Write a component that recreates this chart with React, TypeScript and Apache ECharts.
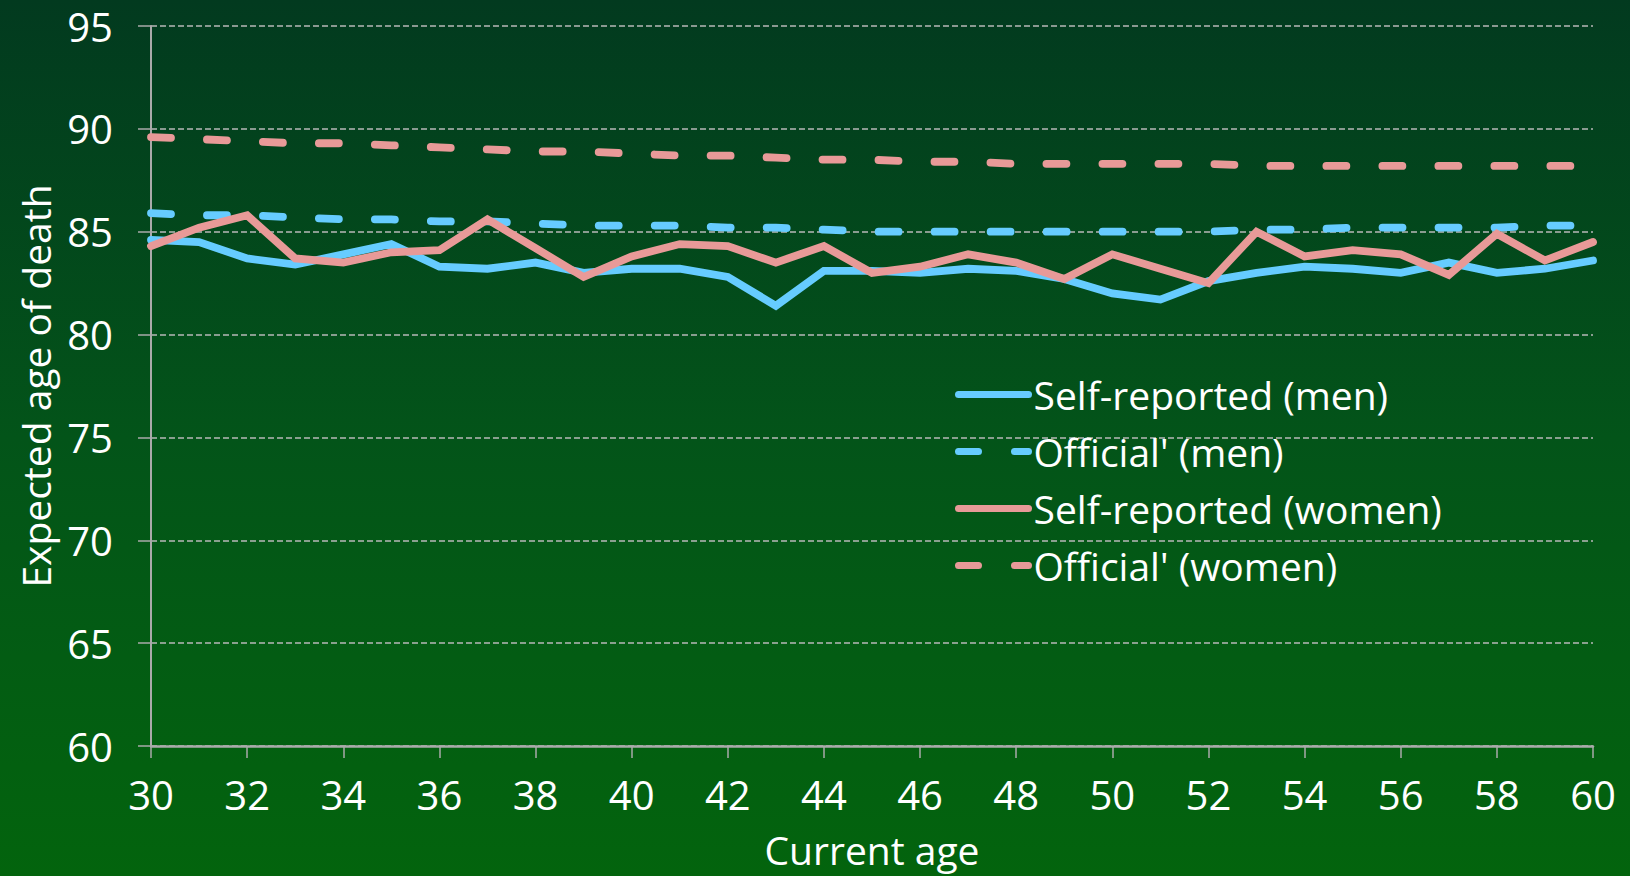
import React, { useEffect, useRef } from "react";
import * as echarts from "echarts";

const ages = [30, 31, 32, 33, 34, 35, 36, 37, 38, 39, 40, 41, 42, 43, 44, 45, 46, 47, 48, 49, 50, 51, 52, 53, 54, 55, 56, 57, 58, 59, 60];
const selfMen = [84.6, 84.5, 83.7, 83.4, 83.9, 84.4, 83.3, 83.2, 83.5, 83.0, 83.2, 83.2, 82.8, 81.4, 83.1, 83.1, 83.0, 83.2, 83.1, 82.7, 82.0, 81.7, 82.6, 83.0, 83.3, 83.2, 83.0, 83.5, 83.0, 83.2, 83.6];
const officialMen = [85.9, 85.8, 85.8, 85.7, 85.6, 85.6, 85.5, 85.5, 85.4, 85.3, 85.3, 85.3, 85.2, 85.2, 85.1, 85.0, 85.0, 85.0, 85.0, 85.0, 85.0, 85.0, 85.0, 85.1, 85.1, 85.2, 85.2, 85.2, 85.2, 85.3, 85.3];
const selfWomen = [84.3, 85.2, 85.8, 83.7, 83.5, 84.0, 84.1, 85.6, 84.2, 82.8, 83.8, 84.4, 84.3, 83.5, 84.3, 83.0, 83.3, 83.9, 83.5, 82.7, 83.9, 83.2, 82.5, 85.0, 83.8, 84.1, 83.9, 82.9, 84.9, 83.6, 84.5];
const officialWomen = [89.6, 89.5, 89.4, 89.3, 89.3, 89.2, 89.1, 89.0, 88.9, 88.9, 88.8, 88.7, 88.7, 88.6, 88.5, 88.5, 88.4, 88.4, 88.3, 88.3, 88.3, 88.3, 88.3, 88.2, 88.2, 88.2, 88.2, 88.2, 88.2, 88.2, 88.2];

const seriesNames = ["Self-reported (men)", "Official' (men)", "Self-reported (women)", "Official' (women)"];
const xAxisTitle = "Current age";
const yAxisTitle = "Expected age of death";

const BLUE = "#66ccff";
const PINK = "#e89a98";
const FONT = "'Open Sans', sans-serif";

export default function App() {
  const ref = useRef<HTMLDivElement>(null);
  useEffect(() => {
    if (!ref.current) return;
    const chart = echarts.init(ref.current, undefined, { renderer: "svg" });
    const pair = (arr: number[]) => ages.map((a, i) => [a, arr[i]]);
    const mk = (name: string, data: number[], color: string, dashed: boolean) => ({
      name,
      type: "line",
      data: pair(data),
      showSymbol: false,
      symbol: "none",
      lineStyle: {
        color,
        width: 7.8,
        type: dashed ? [20, 36] : "solid",
        cap: "round",
        join: "miter",
      },
      itemStyle: { color },
      z: dashed ? 2 : 3,
    });
    chart.setOption({
      animation: false,
      backgroundColor: {
        type: "linear",
        x: 0, y: 0, x2: 0, y2: 1,
        colorStops: [
          { offset: 0, color: "#023a1f" },
          { offset: 0.5, color: "#035419" },
          { offset: 1, color: "#03640d" },
        ],
      },
      textStyle: { fontFamily: FONT },
      grid: { left: 151, right: 37, top: 26, bottom: 130, containLabel: false },
      legend: {
        orient: "vertical",
        left: 950,
        top: 370,
        itemWidth: 70,
        itemHeight: 14,
        itemGap: 18,
        itemStyle: { opacity: 0, borderWidth: 0 },
        lineStyle: { width: 7, cap: "round", inactiveWidth: 7 },
        textStyle: { color: "#ffffff", fontSize: 39, fontFamily: FONT, padding: [0, 0, 0, 0] },
        data: seriesNames,
      },
      xAxis: {
        type: "value",
        min: 30,
        max: 60,
        interval: 2,
        name: xAxisTitle,
        nameLocation: "middle",
        nameGap: 84,
        nameTextStyle: { color: "#ffffff", fontSize: 39, fontFamily: FONT },
        axisLine: { show: true, lineStyle: { color: "#aaaaaa", width: 2.5 } },
        axisTick: { show: true, length: 12, lineStyle: { color: "#aaaaaa", width: 1.5 } },
        axisLabel: { color: "#ffffff", fontSize: 40, margin: 28, fontFamily: FONT },
        splitLine: { show: false },
      },
      yAxis: {
        type: "value",
        min: 60,
        max: 95,
        interval: 5,
        name: yAxisTitle,
        nameLocation: "middle",
        nameGap: 96,
        nameTextStyle: { color: "#ffffff", fontSize: 39, fontFamily: FONT },
        axisLine: { show: true, lineStyle: { color: "#aaaaaa", width: 2 } },
        axisTick: { show: true, length: 13, lineStyle: { color: "#aaaaaa", width: 1.5 } },
        axisLabel: { color: "#ffffff", fontSize: 40, margin: 38, fontFamily: FONT },
        splitLine: { show: true, lineStyle: { color: "#b8b8b8", width: 1.5, type: [6, 3] } },
      },
      series: [
        mk(seriesNames[0], selfMen, BLUE, false),
        mk(seriesNames[1], officialMen, BLUE, true),
        mk(seriesNames[2], selfWomen, PINK, false),
        mk(seriesNames[3], officialWomen, PINK, true),
      ],
    });
    return () => chart.dispose();
  }, []);
  return <div ref={ref} style={{ position: "fixed", left: 0, top: 0, width: 1630, height: 876 }} />;
}
